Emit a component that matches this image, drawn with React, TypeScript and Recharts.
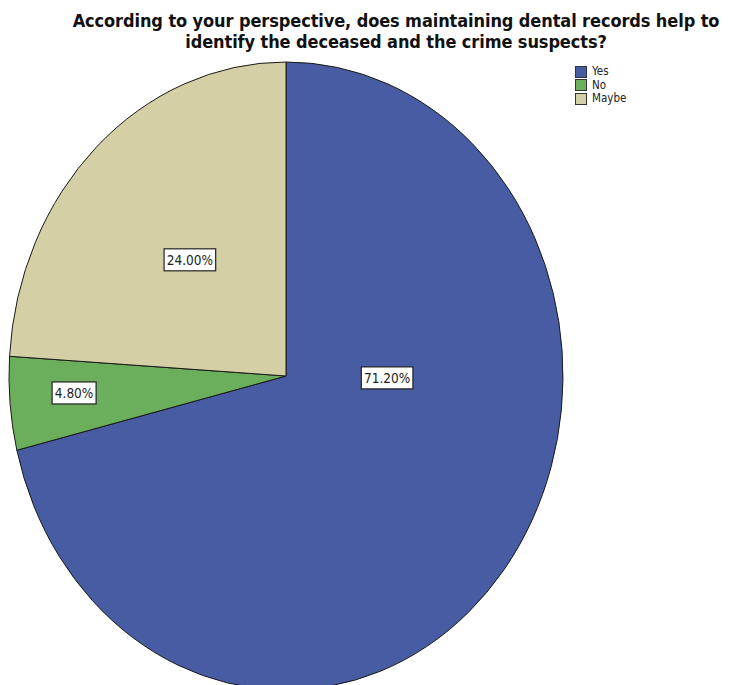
import React from 'react';
import { PieChart, Pie, Cell, Legend } from 'recharts';

const CATEGORIES = ['Yes', 'No', 'Maybe'];
const PERCENTS = [71.2, 4.8, 24.0];
const COLORS = ['#475ca2', '#6bae5b', '#d5cfa6'];

const TITLE_LINES = [
  'According to your perspective, does maintaining dental records help to',
  'identify the deceased and the crime suspects?',
];

// where each percent box sits, as a fraction of the radii (SPSS places them by hand-ish)
const LABEL_SPOTS = [
  { fx: 0.365, fy: 0.006 },
  { fx: -0.765, fy: 0.054 },
  { fx: -0.347, fy: -0.37 },
];

const data = CATEGORIES.map((name, i) => ({ name, value: PERCENTS[i] }));

const RX = 277;
const RY = 314;
const RAD = Math.PI / 180;

// the original pie is stretched vertically, so sectors are drawn as elliptical wedges
const EllipseSector = (props: any) => {
  const { cx, cy, startAngle, endAngle, fill } = props;
  const sx = cx + RX * Math.cos(startAngle * RAD);
  const sy = cy - RY * Math.sin(startAngle * RAD);
  const ex = cx + RX * Math.cos(endAngle * RAD);
  const ey = cy - RY * Math.sin(endAngle * RAD);
  const large = Math.abs(endAngle - startAngle) > 180 ? 1 : 0;
  const sweep = startAngle > endAngle ? 1 : 0;
  const d = `M ${cx},${cy} L ${sx},${sy} A ${RX} ${RY} 0 ${large} ${sweep} ${ex},${ey} Z`;
  return <path d={d} fill={fill} stroke="#1a1a1a" strokeWidth={1} strokeLinejoin="miter" />;
};

const renderLabel = (props: any) => {
  const { cx, cy, index, value } = props;
  const spot = LABEL_SPOTS[index];
  const x = cx + spot.fx * RX;
  const y = cy + spot.fy * RY;
  const text = `${Number(value).toFixed(2)}%`;
  const w = text.length * 7.6 + 6;
  const h = 22;
  return (
    <g key={`lbl-${index}`}>
      <rect x={x - w / 2} y={y - h / 2} width={w} height={h} fill="#ffffff" stroke="#222" strokeWidth={1.2} />
      <text
        x={x}
        y={y + 1}
        textAnchor="middle"
        dominantBaseline="middle"
        fontFamily="'DejaVu Sans Condensed', 'DejaVu Sans', sans-serif"
        fontSize={13.5}
        fill="#222"
      >
        {text}
      </text>
    </g>
  );
};

const renderLegend = () => (
  <div
    style={{
      fontFamily: "'DejaVu Sans Condensed', 'DejaVu Sans', sans-serif",
      fontSize: 11.5,
      lineHeight: '13.5px',
      color: '#222',
    }}
  >
    {CATEGORIES.map((c, i) => (
      <div key={c} style={{ display: 'flex', alignItems: 'center', height: 13.5 }}>
        <span
          style={{
            display: 'inline-block',
            width: 10,
            height: 10,
            background: COLORS[i],
            border: '1px solid #333',
            marginRight: 5,
          }}
        />
        <span>{c}</span>
      </div>
    ))}
  </div>
);

export default function App() {
  return (
    <div style={{ position: 'absolute', left: 0, top: 0, width: 730, height: 685, background: '#fff', overflow: 'hidden' }}>
      <div
        style={{
          position: 'absolute',
          left: 0,
          top: 10,
          width: 792,
          textAlign: 'center',
          fontFamily: "'DejaVu Sans Condensed', 'DejaVu Sans', sans-serif",
          fontWeight: 'bold',
          fontSize: 18,
          lineHeight: '21px',
          letterSpacing: -0.1,
          color: '#111',
          zIndex: 2,
        }}
      >
        {TITLE_LINES.map((t) => (
          <div key={t}>{t}</div>
        ))}
      </div>
      <PieChart width={730} height={685}>
        <Pie
          data={data}
          dataKey="value"
          nameKey="name"
          cx={281}
          cy={371}
          outerRadius={RX}
          startAngle={90}
          endAngle={-270}
          stroke="#1a1a1a"
          shape={EllipseSector}
          label={renderLabel}
          labelLine={false}
          isAnimationActive={false}
        >
          {data.map((d, i) => (
            <Cell key={d.name} fill={COLORS[i]} />
          ))}
        </Pie>
        <Legend
          layout="vertical"
          verticalAlign="top"
          align="right"
          wrapperStyle={{ position: 'absolute', left: 575, top: 65, width: 90 }}
          content={renderLegend}
        />
      </PieChart>
    </div>
  );
}
